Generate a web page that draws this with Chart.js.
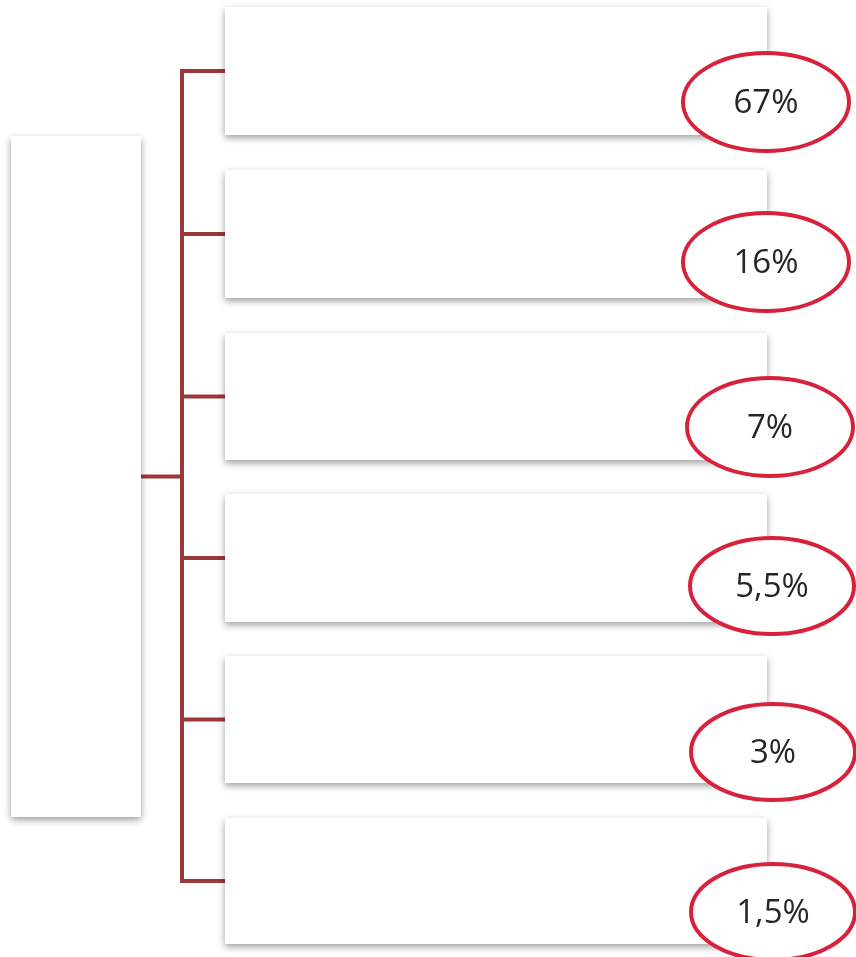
<!DOCTYPE html>
<html>
<head>
<meta charset="utf-8">
<script src="https://cdn.jsdelivr.net/npm/chart.js@4.4.1/dist/chart.umd.min.js"></script>
<style>
html,body{margin:0;padding:0;background:#fff;}
#wrap{width:856px;height:957px;position:relative;}
</style>
</head>
<body>
<div id="wrap"><canvas id="c"></canvas></div>
<script>
// Data
const categories = ["A", "B", "C", "D", "E", "F"];
const shares = [67, 16, 7, 5.5, 3, 1.5];
const shareLabels = ["67%", "16%", "7%", "5,5%", "3%", "1,5%"];

// Layout (pixel-like units on the hidden linear scales)
const rowTop = [7, 170, 333, 494, 656, 818];
const rowBottom = [135, 298, 460, 622, 783, 944];
const rowX = [225, 767];
const rootBox = {x0: 11, x1: 141, y0: 136, y1: 817};
const trunkX = 182;
const ellCX = [766, 766, 770, 772, 773, 773];
const ellCY = [102, 262, 427, 586, 752, 912];
const ellRX = [83, 83, 83, 82, 82, 82];
const ellRY = [49, 49, 49, 48, 48, 48];

const treePlugin = {
  id: 'tree',
  afterDatasetsDraw(chart) {
    const ctx = chart.ctx;
    const xs = chart.scales.x, ys = chart.scales.y;
    const X = v => xs.getPixelForValue(v);
    const Y = v => ys.getPixelForValue(v);

    function box(x0, y0, x1, y1) {
      ctx.save();
      ctx.shadowColor = 'rgba(0,0,0,0.38)';
      ctx.shadowBlur = 7;
      ctx.shadowOffsetX = 0;
      ctx.shadowOffsetY = 3;
      ctx.fillStyle = '#ffffff';
      ctx.fillRect(X(x0), Y(y0), X(x1) - X(x0), Y(y1) - Y(y0));
      ctx.restore();
    }

    // connectors
    ctx.save();
    ctx.strokeStyle = '#9d383a';
    ctx.lineWidth = 4;
    ctx.lineCap = 'butt';
    const mids = categories.map((c, i) => (rowTop[i] + rowBottom[i]) / 2);
    ctx.beginPath();
    ctx.moveTo(X(trunkX), Y(mids[0]) - 2);
    ctx.lineTo(X(trunkX), Y(mids[mids.length - 1]) + 2);
    mids.forEach(m => { ctx.moveTo(X(trunkX - 2), Y(m)); ctx.lineTo(X(rowX[0]), Y(m)); });
    const rootMid = (rootBox.y0 + rootBox.y1) / 2;
    ctx.moveTo(X(rootBox.x1), Y(rootMid));
    ctx.lineTo(X(trunkX + 2), Y(rootMid));
    ctx.stroke();
    ctx.restore();

    // boxes
    box(rootBox.x0, rootBox.y0, rootBox.x1, rootBox.y1);
    categories.forEach((c, i) => box(rowX[0], rowTop[i], rowX[1], rowBottom[i]));

    // ellipses + labels
    const meta = chart.getDatasetMeta(0);
    meta.data.forEach((pt, i) => {
      ctx.save();
      ctx.beginPath();
      ctx.ellipse(pt.x, pt.y, ellRX[i], ellRY[i], 0, 0, Math.PI * 2);
      ctx.fillStyle = '#ffffff';
      ctx.fill();
      ctx.lineWidth = 4;
      ctx.strokeStyle = '#d8213b';
      ctx.stroke();
      ctx.fillStyle = '#262626';
      ctx.font = '33px "Open Sans", "Liberation Sans", sans-serif';
      ctx.textAlign = 'center';
      ctx.textBaseline = 'middle';
      ctx.fillText(shareLabels[i], pt.x, pt.y + 2);
      ctx.restore();
    });
  }
};

new Chart(document.getElementById('c'), {
  type: 'scatter',
  data: {
    datasets: [{
      label: 'share',
      data: shares.map((v, i) => ({x: ellCX[i], y: ellCY[i], v: v})),
      pointRadius: 0,
      pointHoverRadius: 0
    }]
  },
  options: {
    responsive: true,
    maintainAspectRatio: false,
    animation: false,
    layout: {padding: 0},
    plugins: {legend: {display: false}, tooltip: {enabled: false}},
    scales: {
      x: {type: 'linear', min: 0, max: 856, display: false},
      y: {type: 'linear', min: 0, max: 957, reverse: true, display: false}
    }
  },
  plugins: [treePlugin]
});
</script>
</body>
</html>
